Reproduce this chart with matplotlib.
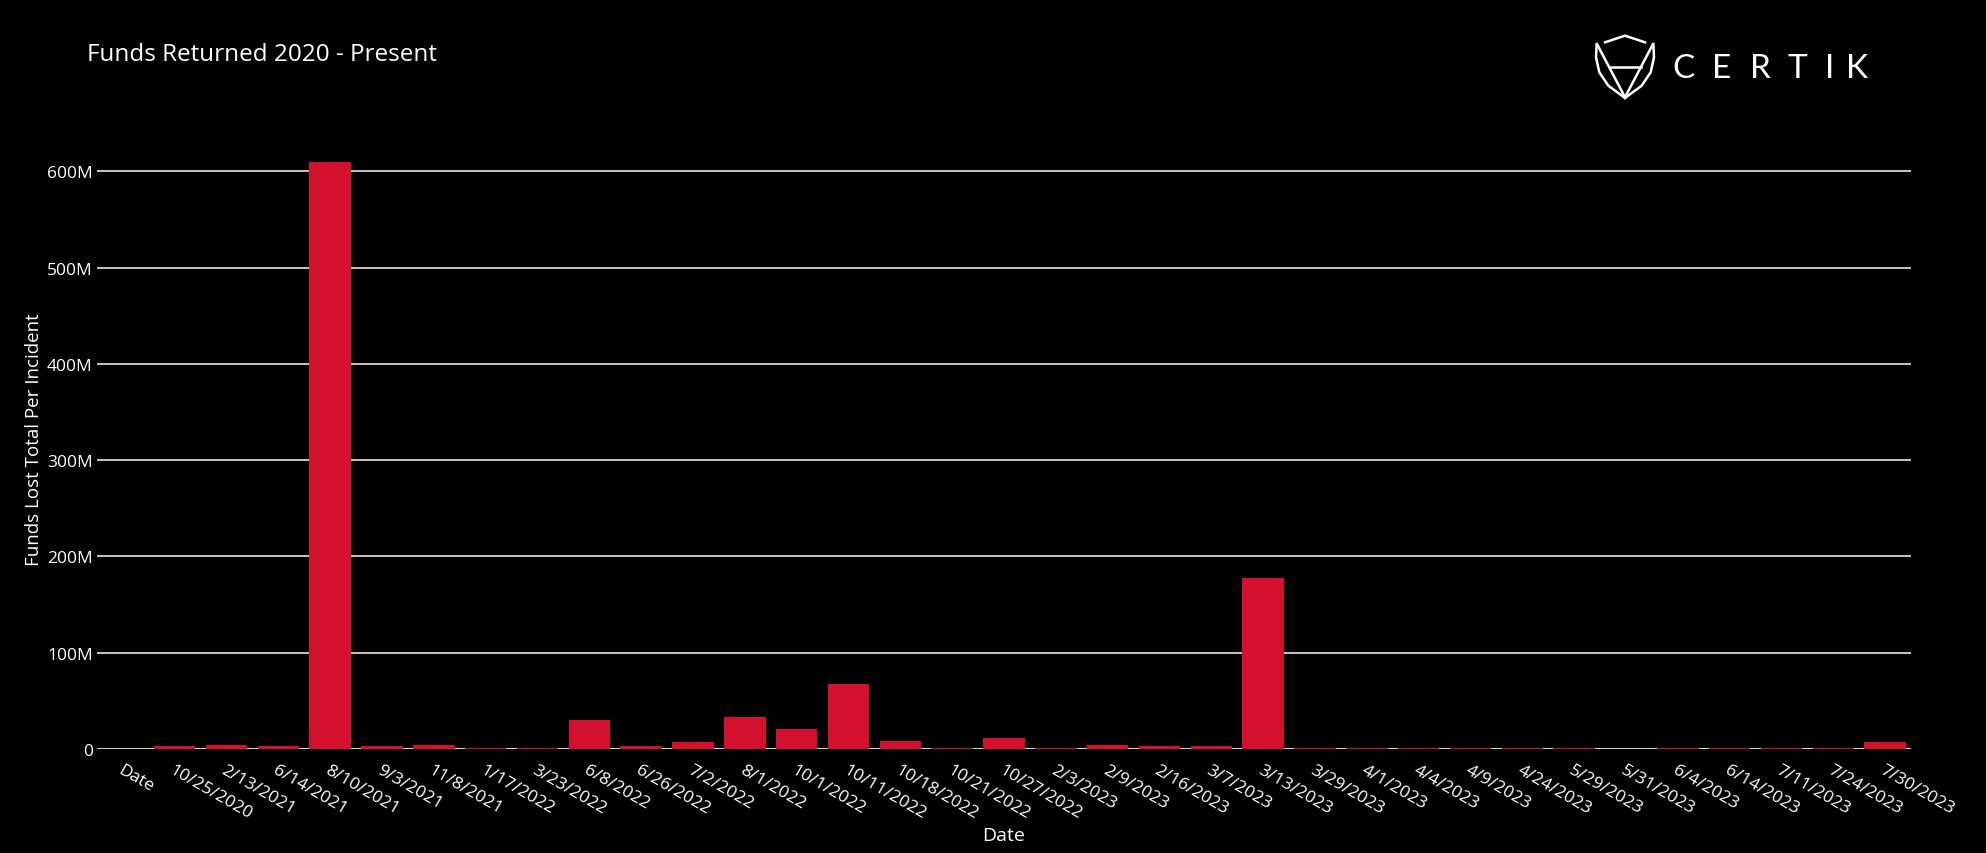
import matplotlib
matplotlib.use("Agg")
import matplotlib.pyplot as plt
from matplotlib.ticker import FuncFormatter

plt.rcParams['font.family'] = ['Open Sans', 'DejaVu Sans']

dates = ['Date', '10/25/2020', '2/13/2021', '6/14/2021', '8/10/2021', '9/3/2021',
         '11/8/2021', '1/17/2022', '3/23/2022', '6/8/2022', '6/26/2022', '7/2/2022',
         '8/1/2022', '10/1/2022', '10/11/2022', '10/18/2022', '10/21/2022',
         '10/27/2022', '2/3/2023', '2/9/2023', '2/16/2023', '3/7/2023', '3/13/2023',
         '3/29/2023', '4/1/2023', '4/4/2023', '4/9/2023', '4/24/2023', '5/29/2023',
         '5/31/2023', '6/4/2023', '6/14/2023', '7/11/2023', '7/24/2023', '7/30/2023']

# funds returned per incident, in millions of USD
funds_m = [0, 3, 4, 3, 610, 3,
           4, 1.5, 1.5, 30, 3, 7.5,
           33, 21, 67.5, 8, 1.5,
           11.5, 1.5, 4, 3, 3, 177.5,
           1.5, 1.5, 1.5, 1.5, 1.5, 1.5,
           0.2, 1.5, 1.5, 1.5, 1.5, 7]

yticks_m = [0, 100, 200, 300, 400, 500, 600]

fig = plt.figure(figsize=(19.86, 8.54), dpi=100, facecolor='black')
ax = fig.add_axes([97 / 1986, 104 / 854, 1814 / 1986, 620 / 854])
ax.set_facecolor('black')

x = list(range(len(dates)))
ax.bar(x, [v * 1e6 for v in funds_m], width=0.8, color='#d3112e', zorder=3)

ax.set_xlim(-0.5, len(dates) - 0.5)
ax.set_ylim(0, 644e6)
ax.set_yticks([v * 1e6 for v in yticks_m])
ax.yaxis.set_major_formatter(FuncFormatter(lambda v, p: '0' if v == 0 else f'{int(v / 1e6)}M'))
ax.grid(axis='y', color='#e6e6e6', linewidth=1.2, zorder=1)
ax.axhline(0, color='#d0d0d0', linewidth=2.2, zorder=2)

for s in ax.spines.values():
    s.set_visible(False)

ax.set_xticks(x)
ax.set_xticklabels(dates, rotation=-30, ha='left', va='top', rotation_mode='anchor')
ax.tick_params(axis='x', length=0, pad=9, colors='white', labelsize=12.5)
ax.tick_params(axis='y', length=0, pad=3, colors='white', labelsize=12.5)

ax.set_xlabel('Date', color='white', fontsize=14)
ax.xaxis.set_label_coords(0.5, -0.125)
ax.set_ylabel('Funds Lost Total Per Incident', color='white', fontsize=13.5)
ax.yaxis.set_label_coords(-0.03, 0.5)

fig.text(87 / 1986, 1 - 61 / 854, 'Funds Returned 2020 - Present', color='white',
         fontsize=17.5, ha='left', va='baseline')

# CertiK logo drawn in pixel coordinates
ov = fig.add_axes([0, 0, 1, 1])
ov.set_xlim(0, 1986)
ov.set_ylim(854, 0)
ov.axis('off')

def px(zx, zy):
    return 1580 + zx / 3, 25 + zy / 3

lw = 1.8
cap = [px(75, 55), px(135, 35), px(195, 55)]
ov.plot([p[0] for p in cap], [p[1] for p in cap], color='white', lw=lw)
left_outer = [px(50, 60), px(48, 100), px(58, 145), px(85, 185), px(135, 222)]
right_outer = [px(220, 60), px(222, 100), px(212, 145), px(185, 185), px(135, 222)]
for pts in (left_outer, right_outer):
    ov.plot([p[0] for p in pts], [p[1] for p in pts], color='white', lw=lw)
for pts in ([px(52, 62), px(135, 220)], [px(218, 62), px(135, 220)], [px(90, 130), px(182, 130)]):
    ov.plot([p[0] for p in pts], [p[1] for p in pts], color='white', lw=lw)

for letter, cx in zip('CERTIK', [1683, 1722, 1760, 1797, 1830, 1857]):
    ov.text(cx, 69, letter, color='white', fontsize=24, family=['Lato', 'DejaVu Sans'],
            weight='normal', ha='center', va='center')

fig.savefig('out.png', dpi=100, facecolor='black')
